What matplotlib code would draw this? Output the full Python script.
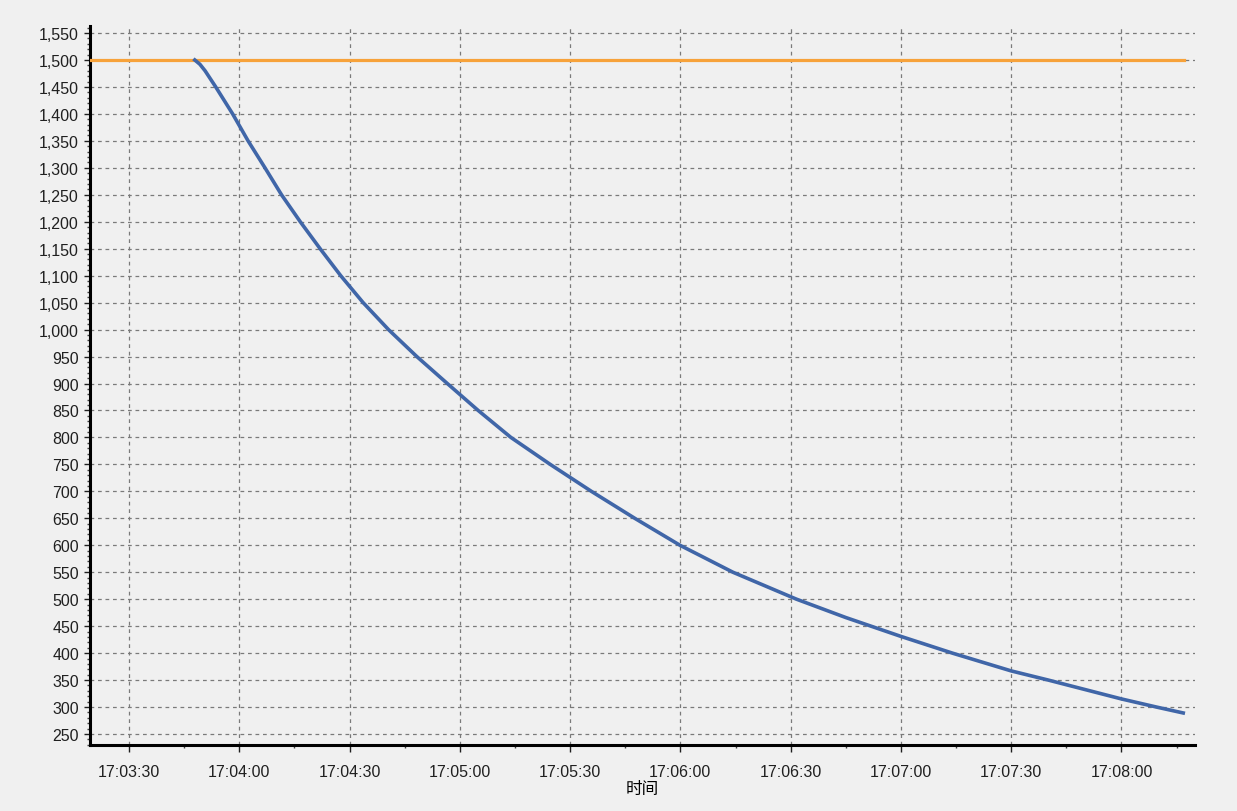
import numpy as np
import pandas as pd
import matplotlib
matplotlib.use("Agg")
import matplotlib.pyplot as plt
import matplotlib.dates as mdates
from matplotlib.ticker import FuncFormatter, MultipleLocator

plt.rcParams['font.family'] = ['Liberation Sans', 'Noto Sans CJK SC']

# curve readings (time, value)
curve_times = ['17:03:47.9', '17:03:49.3', '17:03:50.7', '17:03:53.6', '17:03:58.2',
               '17:04:02.4', '17:04:07.0', '17:04:11.5', '17:04:16.6', '17:04:22.0',
               '17:04:27.6', '17:04:33.7', '17:04:40.6', '17:04:48.3', '17:04:56.6',
               '17:05:05.0', '17:05:13.9', '17:05:24.6', '17:05:35.8', '17:05:47.6',
               '17:05:59.9', '17:06:14.3', '17:06:31.6', '17:06:45.0', '17:07:00.0',
               '17:07:14.0', '17:07:30.0', '17:07:40.1', '17:08:00.0', '17:08:09.5',
               '17:08:16.8']
curve_values = [1500, 1492, 1480, 1450, 1400,
                1350, 1300, 1250, 1200, 1150,
                1100, 1050, 1000, 950, 900,
                850, 800, 750, 700, 650,
                600, 550, 500, 466, 431,
                400, 367, 350, 315, 300,
                289]

limit_times = ['17:03:19.4', '17:08:17.0']
limit_values = [1500, 1500]

y_ticks = list(range(250, 1551, 50))
x_ticks = ['17:03:30', '17:04:00', '17:04:30', '17:05:00', '17:05:30',
           '17:06:00', '17:06:30', '17:07:00', '17:07:30', '17:08:00']

BG = '#F0F0F0'
BLUE = '#4066A8'
ORANGE = '#F7A23A'


def to_dt(ts):
    return pd.to_datetime(['2020-01-01 ' + t for t in ts], format='mixed')


fig = plt.figure(figsize=(12.37, 8.12), dpi=100, facecolor=BG)
ax = fig.add_axes([90 / 1237, 66 / 812, 1105 / 1237, 719 / 812])
ax.set_facecolor(BG)

ax.plot(to_dt(limit_times), limit_values, color=ORANGE, lw=2.3, zorder=3)
ax.plot(to_dt(curve_times), curve_values, color=BLUE, lw=2.6, zorder=4,
        solid_joinstyle='round')

xmin, xmax = to_dt(['17:03:19.4', '17:08:20'])
ax.set_xlim(xmin, xmax)
ax.set_ylim(229.6, 1563)

ax.set_yticks(y_ticks)
ax.yaxis.set_minor_locator(MultipleLocator(10))
ax.yaxis.set_major_formatter(FuncFormatter(lambda v, p: f'{int(v):,}'))

ax.set_xticks(to_dt(x_ticks))
ax.xaxis.set_minor_locator(mdates.SecondLocator(bysecond=[15, 45]))
ax.xaxis.set_major_formatter(mdates.DateFormatter('%H:%M:%S'))

ax.grid(True, which='major', color='#7a7a7a', linestyle=(0, (3.0, 3.0)), linewidth=0.9)

for side in ['top', 'right']:
    ax.spines[side].set_visible(False)
for side in ['left', 'bottom']:
    ax.spines[side].set_linewidth(2.2)
    ax.spines[side].set_color('black')

ax.tick_params(axis='both', which='major', direction='out', width=1,
               labelsize=11.5, colors='#202020')
ax.tick_params(axis='y', which='major', length=4.5, pad=3.5)
ax.tick_params(axis='x', which='major', length=5, pad=8.5)
ax.tick_params(axis='both', which='minor', direction='out', length=2.5, width=1,
               colors='#404040')

ax.set_xlabel('时间', family=['Noto Sans CJK SC', 'DejaVu Sans'], fontsize=12,
              labelpad=1)

fig.savefig('out.png', dpi=100, facecolor=BG)
